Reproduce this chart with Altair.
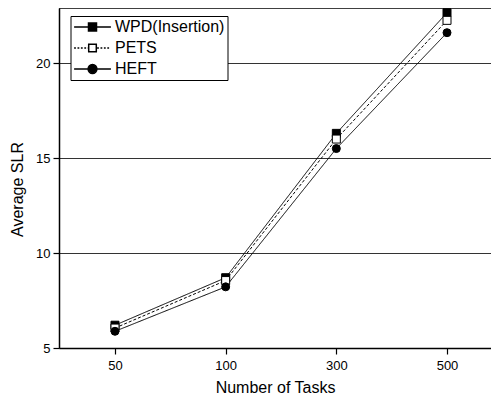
import altair as alt
import pandas as pd

tasks = ["50", "100", "300", "500"]
series_names = ["WPD(Insertion)", "PETS", "HEFT"]
wpd = [6.2, 8.7, 16.3, 22.65]
pets = [6.05, 8.55, 16.0, 22.25]
heft = [5.88, 8.22, 15.5, 21.6]
y_ticks = [5, 10, 15, 20]
y_domain = [5, 22.9]

rows = []
for name, vals in zip(series_names, [wpd, pets, heft]):
    for t, v in zip(tasks, vals):
        rows.append({"tasks": t, "slr": v, "series": name})
df = pd.DataFrame(rows)

FONT = "Liberation Sans"

# legend symbol paths (line + marker); 1 unit = 4 px at size 64
def square(h):
    return f"M-{h},-{h}H{h}V{h}H-{h}Z"

def circle(r):
    k = round(0.5523 * r, 4)
    return (f"M{r},0C{r},{k},{k},{r},0,{r}C-{k},{r},-{r},{k},-{r},0"
            f"C-{r},-{k},-{k},-{r},0,-{r}C{k},-{r},{r},-{k},{r},0Z")

L = 4.6

def solid_line(h):
    return f"M-{L},0H-{h}M{h},0H{L}"

def dashed_line(h):
    parts = []
    x = -L
    while x < -h - 0.1:
        parts.append(f"M{x:.3f},0H{min(x + 0.45, -h):.3f}")
        x += 0.85
    x = h + 0.2
    while x < L - 0.1:
        parts.append(f"M{x:.3f},0H{min(x + 0.45, L):.3f}")
        x += 0.85
    return "".join(parts)

sym_wpd = solid_line(1.0) + square(1.0)
sym_pets = dashed_line(0.95) + square(0.95)
sym_heft = solid_line(1.1) + circle(1.1)

x_enc = alt.X("tasks:O", sort=tasks,
              scale=alt.Scale(type="point", padding=0.4517, align=0.56),
              axis=alt.Axis(title="Number of Tasks", labelAngle=0,
                            domainColor="black", domainWidth=1.5,
                            tickColor="black", tickSize=6, tickWidth=1.2,
                            labelPadding=5, labelFontSize=13, labelFont=FONT,
                            labelColor="black", titleFont=FONT,
                            titleFontSize=16, titleFontWeight="normal",
                            titleColor="black", titleBaseline="alphabetic",
                            titleY=44, grid=False))
y_enc = alt.Y("slr:Q",
              scale=alt.Scale(domain=y_domain, nice=False, zero=False),
              axis=alt.Axis(title="Average SLR", values=y_ticks,
                            domainColor="black", domainWidth=1.5,
                            tickColor="black", tickSize=6, tickWidth=1.2,
                            labelPadding=3, labelFontSize=13, labelFont=FONT,
                            labelColor="black", titleFont=FONT,
                            titleFontSize=16, titleFontWeight="normal",
                            titleColor="black", titleBaseline="alphabetic",
                            titleAngle=270, titleX=-37, titleY=181,
                            grid=True, gridColor="#333", gridWidth=1))

top_border = alt.Chart().mark_rule(color="black", strokeWidth=1.5).encode(
    y=alt.datum(y_domain[1], type="quantitative"))

lines = alt.Chart(df).mark_line(color="black", strokeWidth=1).encode(
    x=x_enc, y=y_enc,
    strokeDash=alt.StrokeDash("series:N", sort=series_names,
                              scale=alt.Scale(domain=series_names,
                                              range=[[1, 0], [3, 2], [1, 0]]),
                              legend=None),
)

points = alt.Chart(df).mark_point(filled=True, size=64, stroke="black",
                                  strokeWidth=1, opacity=1).encode(
    x=x_enc, y=y_enc,
    shape=alt.Shape("series:N", sort=series_names,
                    scale=alt.Scale(domain=series_names,
                                    range=["square", "square", "circle"]),
                    legend=None),
    fill=alt.Fill("series:N", sort=series_names,
                  scale=alt.Scale(domain=series_names,
                                  range=["black", "white", "black"]),
                  legend=None),
)

legend = alt.Legend(
    title=None, orient="none", legendX=11.5, legendY=8,
    labelFont=FONT, labelFontSize=16, labelColor="black",
    labelOffset=14.5, symbolOffset=11, rowPadding=5, padding=3,
    strokeColor="black", fillColor="white",
    symbolSize=64, symbolOpacity=1,
)

legend_layer = alt.Chart(df).transform_filter("false").mark_point(
    filled=False, size=64, stroke="black", strokeWidth=1, opacity=1).encode(
    shape=alt.Shape("series:N", sort=series_names,
                    scale=alt.Scale(domain=series_names,
                                    range=[sym_wpd, sym_pets, sym_heft]),
                    legend=legend),
    fill=alt.Fill("series:N", sort=series_names,
                  scale=alt.Scale(domain=series_names,
                                  range=["black", "white", "black"]),
                  legend=legend),
)

chart = alt.layer(top_border, lines, points, legend_layer).resolve_scale(
    shape="independent", fill="independent"
).properties(
    width=432, height=340,
    autosize=alt.AutoSizeParams(type="none"),
    padding={"left": 51, "top": 0, "right": 0, "bottom": 47},
).configure_view(stroke="transparent")

chart.save("out.html", embed_options={"renderer": "svg", "actions": False})
